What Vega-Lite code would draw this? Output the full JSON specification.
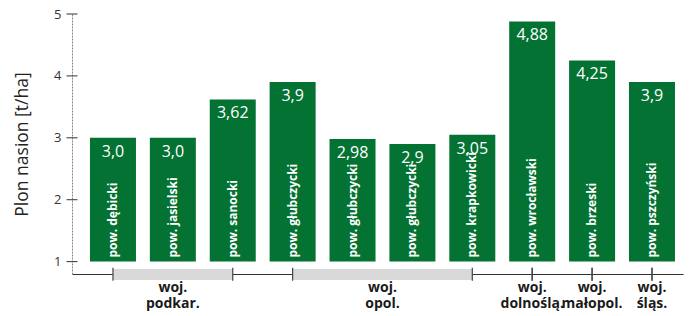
{
  "$schema": "https://vega.github.io/schema/vega-lite/v6.json",
  "width": 611,
  "height": 260,
  "autosize": {"type": "none"},
  "padding": {"left": 72, "top": 14, "right": 17, "bottom": 42},
  "background": "white",
  "config": {
    "font": "Open Sans",
    "view": {"stroke": null},
    "axisX": {"domainColor": "#333", "domainWidth": 1.2, "ticks": false, "labels": false, "grid": false},
    "axisY": {"domainColor": "#888", "domainDash": [2, 1], "ticks": false, "labelFontSize": 13, "labelColor": "#333", "labelPadding": 11, "grid": false, "titleFontSize": 17.5, "titleFontWeight": "normal", "titleColor": "#222", "titlePadding": 22}
  },
  "datasets": {
    "bars": [
      {"idx": 1, "name": "pow. dębicki", "value": 3.0, "label": "3,0"},
      {"idx": 2, "name": "pow. jasielski", "value": 3.0, "label": "3,0"},
      {"idx": 3, "name": "pow. sanocki", "value": 3.62, "label": "3,62"},
      {"idx": 4, "name": "pow. głubczycki", "value": 3.9, "label": "3,9"},
      {"idx": 5, "name": "pow. głubczycki", "value": 2.98, "label": "2,98"},
      {"idx": 6, "name": "pow. głubczycki", "value": 2.9, "label": "2,9"},
      {"idx": 7, "name": "pow. krapkowicki", "value": 3.05, "label": "3,05"},
      {"idx": 8, "name": "pow. wrocławski", "value": 4.88, "label": "4,88"},
      {"idx": 9, "name": "pow. brzeski", "value": 4.25, "label": "4,25"},
      {"idx": 10, "name": "pow. pszczyński", "value": 3.9, "label": "3,9"}
    ],
    "groups": [
      {"group": "woj.\npodkar.", "start": 1, "end": 3, "mid": 2},
      {"group": "woj.\nopol.", "start": 4, "end": 7, "mid": 5.5},
      {"group": "woj.\ndolnoślą.", "start": 8, "end": 8, "mid": 8},
      {"group": "woj.\nmałopol.", "start": 9, "end": 9, "mid": 9},
      {"group": "woj.\nśląs.", "start": 10, "end": 10, "mid": 10}
    ],
    "yticks": [{"v": 1}, {"v": 2}, {"v": 3}, {"v": 4}, {"v": 5}]
  },
  "layer": [
    {
      "data": {"name": "groups"},
      "transform": [{"filter": "datum.start < datum.end"}],
      "mark": {"type": "rect", "color": "#d9d9d9"},
      "encoding": {
        "x": {"field": "start", "type": "quantitative", "scale": {"domain": [0.316, 10.518], "nice": false, "zero": false, "padding": 0}, "axis": {"title": null}},
        "x2": {"field": "end"},
        "y": {"datum": 0.88, "type": "quantitative", "scale": {"domain": [0.8, 5], "nice": false, "zero": false, "padding": 0}, "axis": {"values": [1, 2, 3, 4, 5], "format": "d", "title": "Plon nasion [t/ha]"}},
        "y2": {"datum": 0.703}
      }
    },
    {
      "data": {"name": "bars"},
      "mark": {"type": "bar", "color": "#037232", "size": 46},
      "encoding": {
        "x": {"field": "idx", "type": "quantitative", "scale": {"domain": [0.316, 10.518], "nice": false, "zero": false, "padding": 0}, "axis": {"title": null}},
        "y": {"field": "value", "type": "quantitative", "scale": {"domain": [0.8, 5], "nice": false, "zero": false, "padding": 0}, "axis": {"values": [1, 2, 3, 4, 5], "format": "d", "title": "Plon nasion [t/ha]"}},
        "y2": {"datum": 1}
      }
    },
    {
      "data": {"name": "yticks"},
      "mark": {"type": "tick", "orient": "horizontal", "color": "#333", "size": 11, "thickness": 1, "opacity": 1},
      "encoding": {
        "x": {"datum": 0.316, "type": "quantitative"},
        "y": {"field": "v", "type": "quantitative"}
      }
    },
    {
      "data": {"name": "groups"},
      "mark": {"type": "rule", "color": "#444", "strokeWidth": 1.2},
      "encoding": {
        "x": {"field": "start", "type": "quantitative"},
        "y": {"datum": 0.9, "type": "quantitative"},
        "y2": {"datum": 0.69}
      }
    },
    {
      "data": {"name": "groups"},
      "mark": {"type": "rule", "color": "#444", "strokeWidth": 1.2},
      "encoding": {
        "x": {"field": "end", "type": "quantitative"},
        "y": {"datum": 0.9, "type": "quantitative"},
        "y2": {"datum": 0.69}
      }
    },
    {
      "data": {"name": "bars"},
      "mark": {"type": "text", "color": "white", "fontSize": 16, "baseline": "middle", "align": "center", "dy": 14},
      "encoding": {
        "x": {"field": "idx", "type": "quantitative"},
        "y": {"field": "value", "type": "quantitative"},
        "text": {"field": "label"}
      }
    },
    {
      "data": {"name": "bars"},
      "mark": {"type": "text", "color": "white", "fontSize": 12, "fontWeight": "bold", "angle": 270, "align": "left", "baseline": "middle", "dx": 4},
      "encoding": {
        "x": {"field": "idx", "type": "quantitative"},
        "y": {"datum": 1, "type": "quantitative"},
        "text": {"field": "name"}
      }
    },
    {
      "data": {"name": "groups"},
      "mark": {"type": "text", "color": "#1a1a1a", "fontSize": 14, "fontWeight": "bold", "align": "center", "baseline": "top", "lineBreak": "\n", "lineHeight": 16, "dy": 7},
      "encoding": {
        "x": {"field": "mid", "type": "quantitative"},
        "y": {"datum": 0.8, "type": "quantitative"},
        "text": {"field": "group"}
      }
    }
  ]
}
